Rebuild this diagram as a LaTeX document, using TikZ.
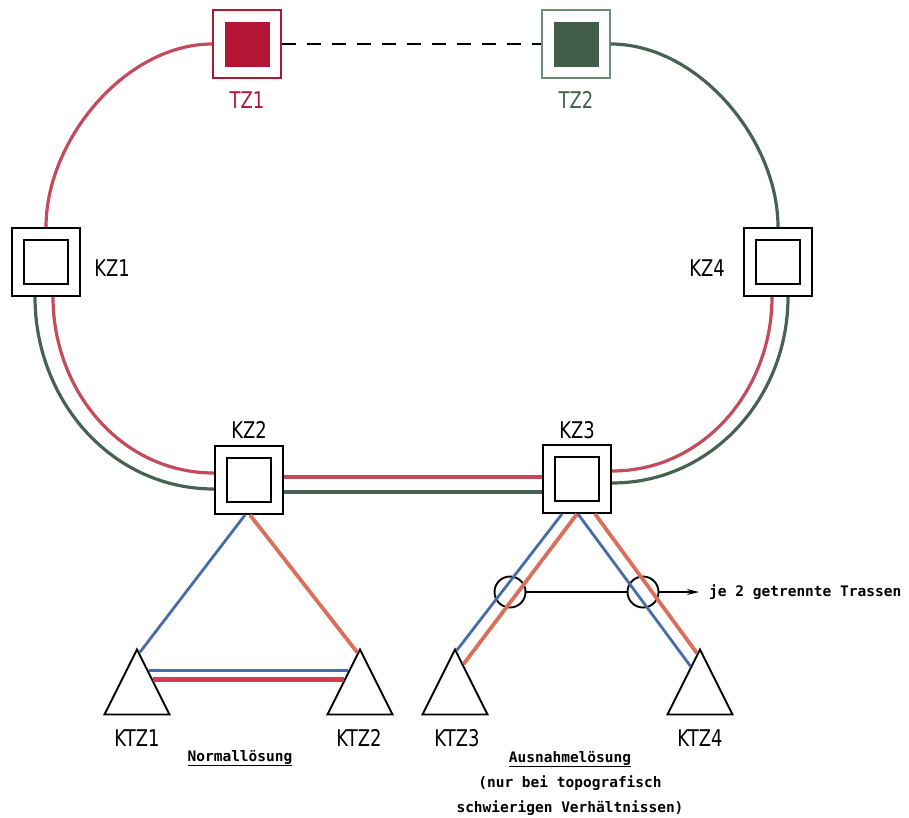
\documentclass[tikz,border=0pt]{standalone}
\usepackage{fontspec}
\usetikzlibrary{shapes.geometric,arrows.meta,calc}
\newfontfamily\lblfont[FakeStretch=0.78]{DejaVu Sans}
\newfontfamily\notefont{DejaVu Sans Mono}
\definecolor{ringred}{RGB}{196,74,92}
\definecolor{ringgreen}{RGB}{72,98,82}
\definecolor{tzred}{RGB}{178,22,52}
\definecolor{tzgreen}{RGB}{66,94,74}
\definecolor{tzedge}{RGB}{110,140,115}
\definecolor{linkblue}{RGB}{72,108,168}
\definecolor{linkorange}{RGB}{218,112,92}
\definecolor{linkred}{RGB}{206,62,80}
\tikzset{
  kzbox/.style={draw, line width=2pt, minimum size=68pt, inner sep=0pt},
  kzinner/.style={draw, line width=2.2pt, minimum size=44pt, inner sep=0pt},
  tzbox/.style={draw, line width=1.4pt, minimum size=68pt, inner sep=0pt},
  tzfill/.style={minimum size=45pt, inner sep=0pt},
  ktz/.style={draw, line width=1.9pt, isosceles triangle, isosceles triangle stretches,
    shape border rotate=90, minimum width=65pt, minimum height=65pt, inner sep=0pt, anchor=apex},
  redline/.style={draw=ringred, line width=3.2pt},
  greenline/.style={draw=ringgreen, line width=3.2pt},
  blueline/.style={draw=linkblue, line width=2.8pt},
  orangeline/.style={draw=linkorange, line width=3.8pt},
  heavyred/.style={draw=linkred, line width=5pt},
  marker/.style={draw, circle, line width=1.9pt, minimum size=31pt, inner sep=0pt},
  lbl/.style={font=\lblfont\fontsize{23}{27}\selectfont, inner sep=0pt},
  note/.style={font=\notefont\bfseries\fontsize{14.5}{25}\selectfont, inner sep=0pt, align=center},
}
\begin{document}
\begin{tikzpicture}[x=1pt, y=1pt]
  \useasboundingbox (0,0) rectangle (909,-817);
  %nodes
  \node[tzbox, draw=tzred] at (247,-44) (tz1) {};
  \node[tzfill, fill=tzred] at (tz1) (tz1in) {};
  \node[tzbox, draw=tzedge] at (576,-44) (tz2) {};
  \node[tzfill, fill=tzgreen] at (tz2) (tz2in) {};
  \node[kzbox] at (46,-262) (kz1) {}; \node[kzinner] at (kz1) (kz1in) {};
  \node[kzbox] at (249,-480) (kz2) {}; \node[kzinner] at (kz2) (kz2in) {};
  \node[kzbox] at (577,-479) (kz3) {}; \node[kzinner] at (kz3) (kz3in) {};
  \node[kzbox] at (778,-262) (kz4) {}; \node[kzinner] at (kz4) (kz4in) {};
  \node[ktz] at (137,-647) (ktz1) {};
  \node[ktz] at (360,-647) (ktz2) {};
  \node[ktz] at (455,-647) (ktz3) {};
  \node[ktz] at (700,-647) (ktz4) {};
  \node[marker] at (510,-592) (cut1) {};
  \node[marker] at (643,-592) (cut2) {};
  % labels
  \node[lbl, text=tzred] at (247,-100) (tz1lbl) {TZ1};
  \node[lbl, text=tzgreen] at (576,-100) (tz2lbl) {TZ2};
  \node[lbl] at (112,-268) (kz1lbl) {KZ1};
  \node[lbl] at (249,-430) (kz2lbl) {KZ2};
  \node[lbl] at (577,-430) (kz3lbl) {KZ3};
  \node[lbl] at (707,-268) (kz4lbl) {KZ4};
  \node[lbl] at (137,-738) (ktz1lbl) {KTZ1};
  \node[lbl] at (359,-738) (ktz2lbl) {KTZ2};
  \node[lbl] at (457,-738) (ktz3lbl) {KTZ3};
  \node[lbl] at (700,-738) (ktz4lbl) {KTZ4};
  \node[note] at (240,-758) (normal) {\underline{Normallösung}};
  \node[note] at (570,-783) (ausnahme) {\underline{Ausnahmelösung}\\(nur bei topografisch\\schwierigen Verhältnissen)};
  \node[note, anchor=west] at (709,-592) (trassen) {je 2 getrennte Trassen};
  % ring between nodes
  \draw[line width=2.6pt, dash pattern=on 14pt off 11pt] (tz1.east) -- (tz2.west);
  \draw[redline] (tz1.west) to[out=180,in=90,looseness=0.9] (kz1.north);
  \draw[greenline] (tz2.east) to[out=0,in=90,looseness=0.9] (kz4.north);
  \draw[redline] ([xshift=7pt]kz1.south) to[out=-90,in=180] ([yshift=7pt]kz2.west);
  \draw[greenline] ([xshift=-11pt]kz1.south) to[out=-90,in=180] ([yshift=-9pt]kz2.west);
  \draw[redline] ([yshift=3pt]kz2.east) -- ([yshift=2pt]kz3.west);
  \draw[greenline] ([yshift=-12pt]kz2.east) -- ([yshift=-13pt]kz3.west);
  \draw[redline] ([yshift=8pt]kz3.east) to[out=0,in=-90] ([xshift=-6pt]kz4.south);
  \draw[greenline] ([yshift=-4pt]kz3.east) to[out=0,in=-90] ([xshift=10pt]kz4.south);
  % links to the KTZ
  \draw[blueline] ([xshift=-4pt]kz2.south) -- ($(ktz1.apex)!0.08!(ktz1.right corner)$);
  \draw[orangeline] ([xshift=1pt]kz2.south) -- ($(ktz2.apex)!0.08!(ktz2.left corner)$);
  \draw[blueline] ($(ktz1.apex)!0.34!(ktz1.right corner)$) -- ($(ktz2.apex)!0.34!(ktz2.left corner)$);
  \draw[heavyred] ($(ktz1.apex)!0.48!(ktz1.right corner)$) -- ($(ktz2.apex)!0.48!(ktz2.left corner)$);
  \draw[blueline] ([xshift=-15pt]kz3.south) -- ($(ktz3.apex)!0.05!(ktz3.right corner)$);
  \draw[orangeline] (kz3.south) -- ($(ktz3.apex)!0.25!(ktz3.right corner)$);
  \draw[blueline] ([xshift=1pt]kz3.south) -- ($(ktz4.apex)!0.28!(ktz4.left corner)$);
  \draw[orangeline] ([xshift=18pt]kz3.south) -- ($(ktz4.apex)!0.09!(ktz4.left corner)$);
  % pointer
  \draw[line width=1.3pt] (cut1.east) -- (cut2.west);
  \draw[line width=1.3pt, -{Stealth[length=12pt,width=6pt]}] (cut2.east) -- ([xshift=-10pt]trassen.west);
\end{tikzpicture}
\end{document}
